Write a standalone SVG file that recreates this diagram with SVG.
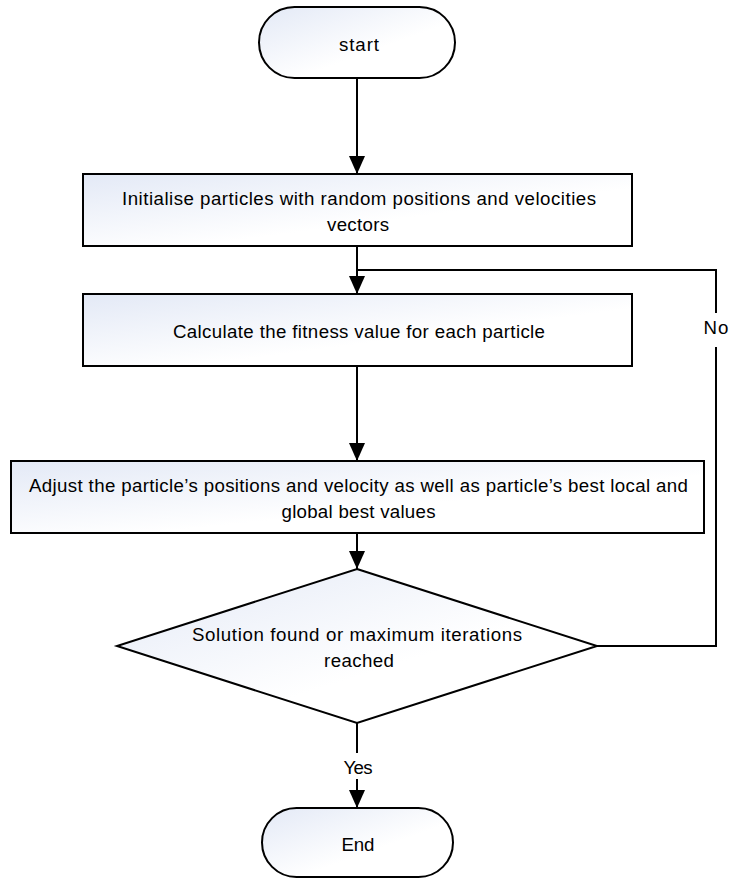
<svg xmlns="http://www.w3.org/2000/svg" width="730" height="879" viewBox="0 0 730 879">
  <style>
    .shape { fill: url(#shade); stroke: #000; stroke-width: 2; }
    .label { font-family: "Liberation Sans", Arial, sans-serif; font-size: 18.7px; fill: #000; text-anchor: middle; }
    .wire { fill: none; stroke: #000; stroke-width: 2; }
    .gap { fill: #fff; stroke: none; }
  </style>
  <defs>
    <linearGradient id="shade" x1="0" y1="0" x2="1" y2="1">
      <stop offset="0" stop-color="#e3e9f6"/>
      <stop offset="0.6" stop-color="#ffffff"/>
      <stop offset="1" stop-color="#ffffff"/>
    </linearGradient>
    <marker id="head" markerUnits="userSpaceOnUse" markerWidth="18" markerHeight="18" viewBox="0 0 18 18" refX="18" refY="9" orient="auto">
      <path d="M0,1 L18,9 L0,17 Z" fill="#000"/>
    </marker>
  </defs>

  <!-- connectors -->
  <g id="connectors">
    <line class="wire" x1="357" y1="78" x2="357" y2="174" marker-end="url(#head)"/>
    <line class="wire" x1="357" y1="246" x2="357" y2="294" marker-end="url(#head)"/>
    <line class="wire" x1="357" y1="366" x2="357" y2="461" marker-end="url(#head)"/>
    <line class="wire" x1="357" y1="533" x2="357" y2="569" marker-end="url(#head)"/>
    <line class="wire" x1="357" y1="723" x2="357" y2="808" marker-end="url(#head)"/>
    <polyline class="wire" points="597,646 716,646 716,270 357,270"/>
    <rect class="gap" x="704" y="313" width="24" height="34"/>
    <text class="label" x="716" y="334" textLength="25">No</text>
    <rect class="gap" x="342" y="753" width="32" height="26"/>
    <text class="label" x="358" y="774" textLength="29">Yes</text>
  </g>

  <g id="start">
    <rect class="shape" x="259" y="7" width="196" height="71" rx="35.5" ry="35.5"/>
    <text class="label" x="359" y="51" textLength="40">start</text>
  </g>

  <g id="init">
    <rect class="shape" x="83" y="174" width="549" height="72"/>
    <text class="label" x="359" y="205" textLength="474">Initialise particles with random positions and velocities</text>
    <text class="label" x="358" y="231" textLength="62">vectors</text>
  </g>

  <g id="fitness">
    <rect class="shape" x="83" y="294" width="549" height="72"/>
    <text class="label" x="359" y="338" textLength="372">Calculate the fitness value for each particle</text>
  </g>

  <g id="update">
    <rect class="shape" x="11" y="461" width="693" height="72"/>
    <text class="label" x="358.5" y="492" textLength="659">Adjust the particle’s positions and velocity as well as particle’s best local and</text>
    <text class="label" x="358.5" y="518" textLength="154">global best values</text>
  </g>

  <g id="check">
    <polygon class="shape" points="357,569 597,646 357,723 117,646"/>
    <text class="label" x="357" y="641" textLength="330">Solution found or maximum iterations</text>
    <text class="label" x="359" y="667" textLength="70">reached</text>
  </g>

  <g id="end">
    <rect class="shape" x="262" y="808" width="191" height="69" rx="34.5" ry="34.5"/>
    <text class="label" x="358" y="851" textLength="33">End</text>
  </g>
</svg>
